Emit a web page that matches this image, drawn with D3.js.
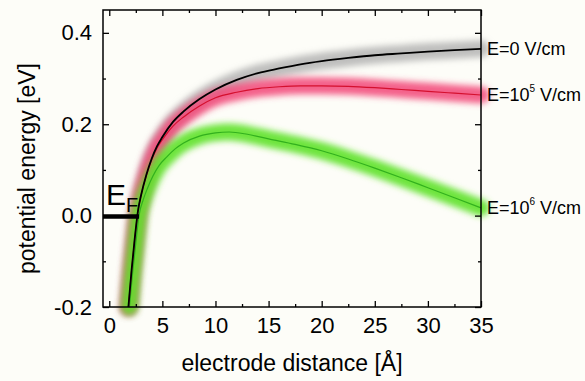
<!DOCTYPE html>
<html>
<head>
<meta charset="utf-8">
<script src="https://cdn.jsdelivr.net/npm/d3@7"></script>
<style>
  html, body { margin: 0; padding: 0; background: #fdfdf8; }
  svg { display: block; }
  text { font-family: "Liberation Sans", Arial, sans-serif; fill: #000; }
</style>
</head>
<body>
<svg id="chart" width="585" height="381"></svg>
<script>
// Potential energy (eV) versus electrode distance (Å) for three applied fields
const distance = [1.8, 2.1, 2.4, 2.7, 3.0, 3.5, 4.0, 4.5, 5.0, 6.0, 7.0, 8.5, 10, 12, 14, 16, 18, 20, 22.5, 25, 27.5, 30, 32.5, 35];
const fieldZero = [-0.20, -0.12, -0.05, 0.01, 0.045, 0.09, 0.125, 0.152, 0.172, 0.205, 0.228, 0.255, 0.276, 0.297, 0.312, 0.322, 0.331, 0.338, 0.345, 0.351, 0.355, 0.359, 0.362, 0.365];
const fieldE5 = [-0.20, -0.12, -0.05, 0.01, 0.045, 0.088, 0.122, 0.148, 0.166, 0.196, 0.216, 0.240, 0.258, 0.270, 0.278, 0.282, 0.284, 0.284, 0.283, 0.280, 0.276, 0.272, 0.268, 0.264];

const distanceHigh = [1.9, 2.2, 2.5, 2.8, 3.2, 3.6, 4.1, 4.7, 5.4, 6.2, 7.0, 8.5, 10, 11.3, 13, 15, 17.5, 20, 22.5, 25, 27.5, 30, 32.5, 35];
const fieldE6 = [-0.20, -0.125, -0.06, 0.0, 0.035, 0.060, 0.086, 0.110, 0.128, 0.146, 0.159, 0.174, 0.181, 0.183, 0.178, 0.168, 0.156, 0.142, 0.124, 0.104, 0.083, 0.061, 0.039, 0.017];

const seriesLabels = ["E=0 V/cm", "E=10", "E=10"];
const seriesExponents = ["", "5", "6"];

const xTicks = [0, 5, 10, 15, 20, 25, 30, 35];
const xMinorTicks = [2.5, 7.5, 12.5, 17.5, 22.5, 27.5, 32.5];
const yTicks = [-0.2, 0.0, 0.2, 0.4];
const yMinorTicks = [-0.1, 0.1, 0.3];

const fermiLevel = 0.0;
const fermiRange = [-0.59, 2.8];

const svg = d3.select("#chart");
const W = 585, H = 381;
const margin = { top: 10, right: 104, bottom: 74, left: 103 };
const iw = W - margin.left - margin.right;
const ih = H - margin.top - margin.bottom;

const x = d3.scaleLinear().domain([-0.59, 35]).range([0, iw]);
const y = d3.scaleLinear().domain([-0.2, 0.45]).range([ih, 0]);

const defs = svg.append("defs");
defs.append("filter")
  .attr("id", "glow")
  .attr("filterUnits", "userSpaceOnUse")
  .attr("x", 0).attr("y", 0).attr("width", W).attr("height", H)
  .append("feGaussianBlur").attr("stdDeviation", 3.4);

const g = svg.append("g").attr("transform", `translate(${margin.left},${margin.top})`);

const series = [
  { xs: distance, ys: fieldZero, line: "#000000", band: "#a9a9a9", bandOpacity: 0.75, lw: 1.8 },
  { xs: distance, ys: fieldE5, line: "#d4102e", band: "#f24677", bandOpacity: 0.85, lw: 1.2 },
  { xs: distanceHigh, ys: fieldE6, line: "#32b01e", band: "#5ee22a", bandOpacity: 0.9, lw: 1.2 }
];

const lineGen = d3.line()
  .x(d => x(d[0]))
  .y(d => y(d[1]))
  .curve(d3.curveMonotoneX);

// Blurred bands behind each curve
series.forEach(s => {
  const pts = s.xs.map((v, i) => [v, s.ys[i]]);
  g.append("path")
    .datum(pts)
    .attr("d", lineGen)
    .attr("fill", "none")
    .attr("stroke", s.band)
    .attr("stroke-opacity", s.bandOpacity)
    .attr("stroke-width", 17)
    .attr("stroke-linecap", "round")
    .attr("filter", "url(#glow)");
});

// Curves on top: green, red, then black
[series[2], series[1], series[0]].forEach(s => {
  const pts = s.xs.map((v, i) => [v, s.ys[i]]);
  g.append("path")
    .datum(pts)
    .attr("d", lineGen)
    .attr("fill", "none")
    .attr("stroke", s.line)
    .attr("stroke-width", s.lw);
});

// Fermi level marker
g.append("line")
  .attr("x1", x(fermiRange[0])).attr("x2", x(fermiRange[1]))
  .attr("y1", y(fermiLevel) + 1).attr("y2", y(fermiLevel) + 1)
  .attr("stroke", "#000").attr("stroke-width", 4.5);

const ef = g.append("text")
  .attr("x", x(fermiRange[0]) + 3)
  .attr("y", y(fermiLevel) - 11)
  .style("font-size", "30px");
ef.append("tspan").text("E");
ef.append("tspan").attr("dy", 7).style("font-size", "20px").text("F");

// Axes with inward ticks on all four sides
const hyphenFormat = d => d3.format(".1f")(d).replace("−", "-");

function styleAxis(sel) {
  sel.select(".domain").remove();
  sel.selectAll(".tick line").attr("stroke", "#000").attr("stroke-width", 1.3);
  sel.selectAll("text").style("font-size", "22px").style("font-family", "'Liberation Sans', Arial, sans-serif");
}

g.append("g").attr("transform", `translate(0,${ih})`)
  .call(d3.axisBottom(x).tickValues(xTicks).tickSize(-6).tickPadding(10).tickFormat(d3.format("d")))
  .call(styleAxis);
g.append("g").attr("transform", `translate(0,${ih})`)
  .call(d3.axisBottom(x).tickValues(xMinorTicks).tickSize(-3).tickFormat(""))
  .call(styleAxis);
g.append("g")
  .call(d3.axisTop(x).tickValues(xTicks).tickSize(-6).tickFormat(""))
  .call(styleAxis);
g.append("g")
  .call(d3.axisTop(x).tickValues(xMinorTicks).tickSize(-3).tickFormat(""))
  .call(styleAxis);

g.append("g")
  .call(d3.axisLeft(y).tickValues(yTicks).tickSize(-6).tickPadding(11).tickFormat(hyphenFormat))
  .call(styleAxis);
g.append("g")
  .call(d3.axisLeft(y).tickValues(yMinorTicks).tickSize(-3).tickFormat(""))
  .call(styleAxis);
g.append("g").attr("transform", `translate(${iw},0)`)
  .call(d3.axisRight(y).tickValues(yTicks).tickSize(-6).tickFormat(""))
  .call(styleAxis);
g.append("g").attr("transform", `translate(${iw},0)`)
  .call(d3.axisRight(y).tickValues(yMinorTicks).tickSize(-3).tickFormat(""))
  .call(styleAxis);

// Frame
g.append("rect")
  .attr("x", 0).attr("y", 0).attr("width", iw).attr("height", ih)
  .attr("fill", "none").attr("stroke", "#000").attr("stroke-width", 1.5);

// Series labels at the right edge
series.forEach((s, i) => {
  const yEnd = y(s.ys[s.ys.length - 1]);
  const t = g.append("text")
    .attr("x", iw + 6)
    .attr("y", yEnd + 6)
    .style("font-size", "18px");
  t.append("tspan").text(seriesLabels[i]);
  if (seriesExponents[i]) {
    t.append("tspan").attr("dy", -9).style("font-size", "10px").text(seriesExponents[i]);
    t.append("tspan").attr("dy", 9).text(" V/cm");
  }
});

// Axis titles
g.append("text")
  .attr("x", iw / 2).attr("y", ih + 64)
  .attr("text-anchor", "middle")
  .style("font-size", "23px")
  .text("electrode distance [Å]");

g.append("text")
  .attr("transform", `translate(${-margin.left + 35},${ih / 2 + 10}) rotate(-90)`)
  .attr("text-anchor", "middle")
  .style("font-size", "23px")
  .text("potential energy [eV]");
</script>
</body>
</html>
